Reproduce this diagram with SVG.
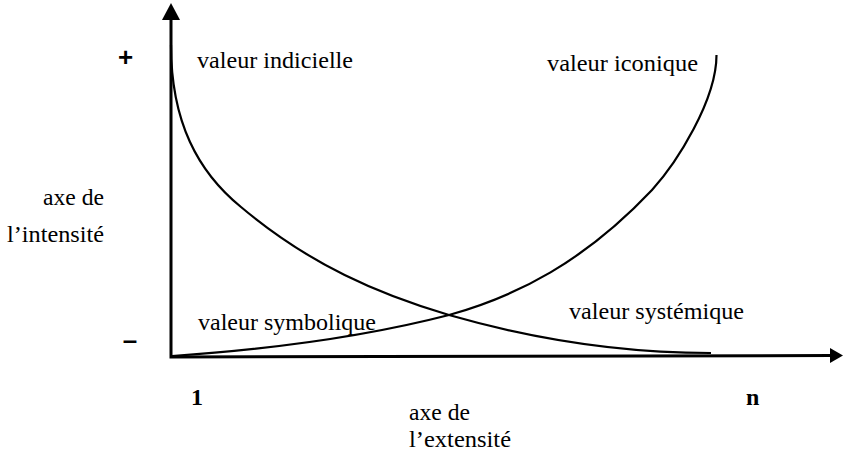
<svg xmlns="http://www.w3.org/2000/svg" width="843" height="460" viewBox="0 0 843 460">
<style>
.lbl{font-family:"Liberation Serif","Times New Roman",serif;font-size:23px;fill:#000}
.num{font-family:"Liberation Serif","Times New Roman",serif;font-size:24px;font-weight:bold;fill:#000}
.sign{font-family:"Liberation Sans",Arial,sans-serif;font-size:26px;font-weight:bold;fill:#000}
.axis{stroke:#000;stroke-width:3;fill:none}
.curve{stroke:#000;stroke-width:2.2;fill:none}
</style>
<rect width="843" height="460" fill="#fff"/>
<g id="connectors">
  <path class="axis" d="M171,19 L171,357 L832,355.5"/>
  <polygon points="171,3 162,20 180,20" fill="#000"/>
  <polygon points="843,355.5 830,348 830,363" fill="#000"/>
  <path id="curve-indicielle" class="curve" d="M171,45 C171,122 198,172 241,207 C310,265 379,294.5 449,315 C536,340 624,353 711,353"/>
  <path id="curve-iconique" class="curve" d="M172,356 C260,350 360,338 449,315 C517,296 584,262 652,190 C677,162.5 716.5,100 716.5,55"/>
</g>
<g id="signs">
  <text class="sign" x="125.5" y="66" text-anchor="middle">+</text>
  <text class="sign" x="130" y="349" text-anchor="middle">–</text>
</g>
<g id="node-indicielle"><text class="lbl" x="197" y="68" textLength="156" lengthAdjust="spacingAndGlyphs">valeur indicielle</text></g>
<g id="node-iconique"><text class="lbl" x="547" y="71" textLength="151" lengthAdjust="spacingAndGlyphs">valeur iconique</text></g>
<g id="node-symbolique"><text class="lbl" x="198" y="330" textLength="178" lengthAdjust="spacingAndGlyphs">valeur symbolique</text></g>
<g id="node-systemique"><text class="lbl" x="569" y="319" textLength="175" lengthAdjust="spacingAndGlyphs">valeur systémique</text></g>
<g id="axis-intensity">
  <text class="lbl" x="104" y="205" text-anchor="end" textLength="61" lengthAdjust="spacingAndGlyphs">axe de</text>
  <text class="lbl" x="104" y="242" text-anchor="end" textLength="97" lengthAdjust="spacingAndGlyphs">l’intensité</text>
</g>
<g id="axis-extensity">
  <text class="lbl" x="409" y="420" textLength="61" lengthAdjust="spacingAndGlyphs">axe de</text>
  <text class="lbl" x="409" y="447" textLength="102" lengthAdjust="spacingAndGlyphs">l’extensité</text>
</g>
<g id="ticks">
  <text class="num" x="191" y="405">1</text>
  <text class="num" x="746" y="405">n</text>
</g>
</svg>
